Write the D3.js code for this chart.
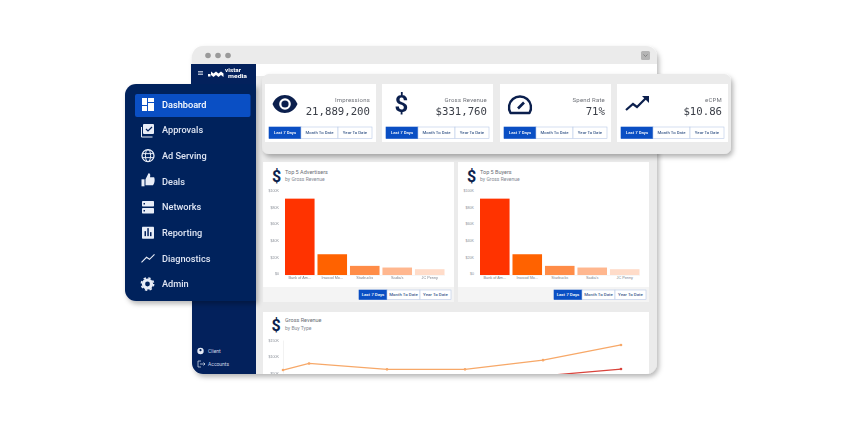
<!DOCTYPE html>
<html><head><meta charset="utf-8">
<script src="https://cdnjs.cloudflare.com/ajax/libs/d3/7.8.5/d3.min.js"></script>
<style>
html,body{margin:0;background:#fff;width:854px;height:427px;overflow:hidden}
svg{display:block;filter:blur(.4px);font-family:Roboto,sans-serif}
</style></head><body><svg id="c" width="854" height="427"></svg>
<script>
const navItems=["Dashboard","Approvals","Ad Serving","Deals","Networks","Reporting","Diagnostics","Admin"];
const footerItems=["Client","Accounts"];
const kpiTitles=["Impressions","Gross Revenue","Spend Rate","eCPM"];
const kpiValues=["21,889,200","$331,760","71%","$10.86"];
const rangeLabels=["Last 7 Days","Month To Date","Year To Date"];
const barCategories=["Bank of Am...","Inwood Mo...","Starbucks","Sadia's","JC Penny"];
const barValues=[92,25,11,9,7];
const barColors=["#ff3300","#ff6200","#ff8c47","#ffb78f","#ffdcc9"];
const barTicks=[0,20,40,60,80,100];
const chartTitles=["Top 5 Advertisers","Top 5 Buyers"];
const lineDates=[0,1,4,7,10,13];
const lineOrange=[59,79,61,61,89,135];
const lineRed=[20,20,22,25,41,62];
const lineTicks=[50,100,150];

const navy="#03215c",blue="#0a4fc4",ink="#0b1f4d";
const svg=d3.select("#c");
const defs=svg.append("defs");
function shadow(id,dy,sd,op){const f=defs.append("filter").attr("id",id).attr("x","-10%").attr("y","-15%").attr("width","120%").attr("height","135%");
 f.append("feDropShadow").attr("dx",2).attr("dy",dy).attr("stdDeviation",sd).attr("flood-color","#000").attr("flood-opacity",op);}
shadow("s1",3,2.5,.28);shadow("s2",3,2.5,.3);
const clip=defs.append("clipPath").attr("id","win");
clip.append("rect").attr("x",192).attr("y",46).attr("width",465).attr("height",328).attr("rx",11);

function rect(p,x,y,w,h,fill,rx){return p.append("rect").attr("x",x).attr("y",y).attr("width",w).attr("height",h).attr("fill",fill).attr("rx",rx||0);}
function text(p,x,y,s,size,fill,anchor,weight,fam){const t=p.append("text").attr("x",x).attr("y",y).text(s).attr("font-size",size).attr("fill",fill).attr("text-anchor",anchor||"start").attr("font-weight",weight||400);if(fam)t.attr("font-family",fam);return t;}
function buttons(p,x,y,ws,h,fs){
 let cx=x;
 rangeLabels.forEach((l,i)=>{
  rect(p,cx,y,ws[i],h,i===0?blue:"#fff").attr("stroke",i===0?blue:"#b9c9e6").attr("stroke-width",.6);
  text(p,cx+ws[i]/2,y+h/2+fs*.35,l,fs,i===0?"#fff":"#42608f","middle",500);
  cx+=ws[i];
 });
}

// browser window
rect(svg,192,46,465,328,"#ebebeb",11).attr("filter","url(#s1)");
const win=svg.append("g").attr("clip-path","url(#win)");
rect(win,256,64,401,12,"#fff");
rect(win,191,64,65,312,navy);
[208,218,228].forEach(x=>win.append("circle").attr("cx",x).attr("cy",55.5).attr("r",2.8).attr("fill","#9a9a9a"));
rect(win,641,51,9,9,"#b5b5b5",1.5);
win.append("path").attr("d","M643.5 54.5l2 2 2-2").attr("fill","none").attr("stroke","#777").attr("stroke-width",.8);

// footer of sidebar
footerItems.forEach((s,i)=>{
 const y=351+i*13;
 if(i===0){
  win.append("circle").attr("cx",200.5).attr("cy",y).attr("r",3.2).attr("fill","#e3e9f5");
  win.append("circle").attr("cx",200.5).attr("cy",y-.8).attr("r",1.1).attr("fill",navy);
 } else {
  win.append("path").attr("d",`M201 ${y-3}h-3v6h3M200 ${y}h5M203.5 ${y-1.5}l1.5 1.5-1.5 1.5`).attr("fill","none").attr("stroke","#e3e9f5").attr("stroke-width",.7);
 }
 text(win,208,y+1.8,s,5,"#cfd8ea");
});

// bar cards
chartTitles.forEach((title,k)=>{
 const x0=263+k*195;
 const g=win.append("g");
 rect(g,x0,162,191,125,"#fff");
 rect(g,x0,287,191,15,"#f4f4f4");
 text(g,x0+22,174,title,5.5,"#6a6e76");
 text(g,x0+22,180.5,"by Gross Revenue",5,"#858a93");
 text(g,x0+13.5,181.5,"$",16,ink,"middle",700);
 const y=d3.scaleLinear().domain([0,100]).range([275,192]);
 const x=d3.scaleBand().domain(barCategories).range([x0+22,x0+181.5]).paddingInner(.09).paddingOuter(0);
 const ya=g.append("g").attr("transform",`translate(${x0+20},-1.5)`)
  .call(d3.axisLeft(y).tickValues(barTicks).tickSize(0).tickFormat(d=>d===0?"$0":`$${d}K`));
 ya.select(".domain").remove();
 ya.selectAll("text").attr("font-size",3.6).attr("fill","#8a8f98").attr("dx",-1);
 g.selectAll("rect.b").data(barValues).join("rect").attr("class","b")
  .attr("x",(d,i)=>x(barCategories[i])).attr("width",x.bandwidth())
  .attr("y",d=>y(d)).attr("height",d=>y(0)-y(d)).attr("fill",(d,i)=>barColors[i]);
 const xa=g.append("g").attr("transform","translate(0,275)").call(d3.axisBottom(x).tickSize(0).tickPadding(0));
 xa.select(".domain").attr("stroke","#eee").attr("stroke-width",.5);
 xa.selectAll("text").attr("font-size",3.8).attr("fill","#80858e").attr("dy",3.8);
 buttons(g,x0+96,290,[28,33,31],9.5,4.4);
});

// line card
const lg=win.append("g");
rect(lg,263,312,386,70,"#fff");
text(lg,285,322,"Gross Revenue",5.5,"#6a6e76");
text(lg,285,330,"by Buy Type",5,"#858a93");
text(lg,276,331,"$",16,ink,"middle",700);
const ly=d3.scaleLinear().domain([50,150]).range([373,340]);
const lx=d3.scaleLinear().domain([0,13]).range([283,621]);
const lya=lg.append("g").attr("transform","translate(283,0)").call(d3.axisLeft(ly).tickValues(lineTicks).tickSize(0).tickFormat(d=>`$${d}K`));
lya.select(".domain").attr("stroke","#e4e4e4").attr("stroke-width",.5);
lya.selectAll("text").attr("font-size",3.6).attr("fill","#8a8f98").attr("dx",-1);
const line=d3.line().x((d,i)=>lx(lineDates[i])).y(d=>ly(d));
lg.append("path").attr("d",line(lineRed)).attr("fill","none").attr("stroke","#d9443c").attr("stroke-width",1.3);
lg.append("path").attr("d",line(lineOrange)).attr("fill","none").attr("stroke","#f7a868").attr("stroke-width",1.3);
lg.selectAll("circle").data(lineOrange).join("circle").attr("cx",(d,i)=>lx(lineDates[i])).attr("cy",d=>ly(d)).attr("r",1.3).attr("fill","#f7a868");
lg.append("circle").attr("cx",lx(13)).attr("cy",ly(lineRed[5])).attr("r",1.3).attr("fill","#d9443c");

// KPI panel
rect(svg,262,74,469,80,"#ebebeb",7).attr("filter","url(#s2)");
const cardX=[265,382,500,617];
const icons=[
 g=>{g.append("path").attr("d","M272.5 104c4.5-12 20-12 25 0c-5 12-20.5 12-25 0z").attr("fill",ink);
     g.append("circle").attr("cx",285).attr("cy",104).attr("r",5.8).attr("fill","#fff");
     g.append("circle").attr("cx",285).attr("cy",104).attr("r",3.6).attr("fill",ink);},
 g=>{text(g,401.5,112,"$",24,ink,"middle",700);},
 g=>{g.append("path").attr("d","M510.5 113a11 11 0 1 1 19 0z").attr("fill","none").attr("stroke",ink).attr("stroke-width",2.4).attr("stroke-linejoin","round");
     g.append("path").attr("d","M518 108.5l6-6").attr("stroke",ink).attr("stroke-width",2.6);},
 g=>{g.append("path").attr("d","M626 110l7-6 4 3 9-9").attr("fill","none").attr("stroke",ink).attr("stroke-width",2.2);
     g.append("path").attr("d","M642 96h7v7z").attr("fill",ink);}
];
cardX.forEach((x,i)=>{
 const g=svg.append("g");
 rect(g,x,84,111,58,"#fff");
 text(g,x+105,101.5,kpiTitles[i],6,"#6e7178","end").attr("letter-spacing",.2);
 text(g,x+105,114.5,kpiValues[i],10.7,"#3b3f48","end",400,"'DejaVu Sans Mono',monospace");
 icons[i](g);
 buttons(g,x+4,127,[32,37,34],11.5,4.3);
});

// nav panel
const nav=svg.append("g");
nav.append("path").attr("d","M256 84H136a11 11 0 0 0-11 11V290a11 11 0 0 0 11 11H256z").attr("fill",navy).attr("filter","url(#s1)");
rect(nav,191,64,65,20,navy);
rect(nav,135,94,115.5,23,blue,2);
navItems.forEach((s,i)=>{
 const y=104.3+i*25.67;
 const g=nav.append("g");
 text(g,162,y+3.3,s,9.2,i===0?"#fff":"#dfe6f4",null,500);
 const c="#e8edf7";
 if(i===0){[[142,98,5,7],[148,98,6,4],[142,106,5,5],[148,103,6,8]].forEach(r=>rect(g,r[0],r[1],r[2],r[3],"#fff"));}
 if(i===1){rect(g,143,124,11,10,c,1);g.append("path").attr("d","M141.5 127v10h11").attr("fill","none").attr("stroke",c);
           g.append("path").attr("d","M146 129l2 2 4-4").attr("fill","none").attr("stroke",navy).attr("stroke-width",1.2);}
 if(i===2){g.append("circle").attr("cx",148).attr("cy",y).attr("r",6).attr("fill","none").attr("stroke",c).attr("stroke-width",1.3);
           g.append("ellipse").attr("cx",148).attr("cy",y).attr("rx",2.6).attr("ry",6).attr("fill","none").attr("stroke",c).attr("stroke-width",1);
           g.append("path").attr("d",`M142 ${y-2}h12M142 ${y+2}h12`).attr("stroke",c).attr("stroke-width",1);}
 if(i===3){rect(g,141.5,y-2,3,7,c);g.append("path").attr("d",`M145.5 ${y-2}l3-6c2 0 2 2 1.5 4h4c1 1 1 6-1 8h-7.5z`).attr("fill",c);}
 if(i===4){rect(g,142,y-6,12,5.5,c,.7);rect(g,142,y+1,12,5.5,c,.7);
           rect(g,143.5,y-4,1.5,1.5,navy);rect(g,143.5,y+3,1.5,1.5,navy);}
 if(i===5){rect(g,142,y-6,12,12,c,.7);[[144.5,-1,1.5,5],[147.3,-4,1.5,8],[150,0,1.5,4]].forEach(b=>rect(g,b[0],y+b[1]-.5,b[2],b[3],navy));}
 if(i===6){g.append("path").attr("d",`M141.5 ${y+4}l5-5 3 2 5-5`).attr("fill","none").attr("stroke",c).attr("stroke-width",1.1);}
 if(i===7){g.append("circle").attr("cx",147.5).attr("cy",y).attr("r",4).attr("fill","none").attr("stroke",c).attr("stroke-width",3.2);
           g.append("circle").attr("cx",147.5).attr("cy",y).attr("r",6.1).attr("fill","none").attr("stroke",c).attr("stroke-width",1.6).attr("stroke-dasharray","2.4 2.4");}
});

// logo, above the sidebar header
[0,1,2].forEach(i=>rect(svg,198,71+i*1.6,5,.8,"#cfd6e6"));
svg.append("path").attr("d","M208 74h2.5v2.5H208zM211 71.5l2.5 2 2.5-2 2.5 2 2.5-2 2.5 2v3.5l-2.5-2-2.500 2-2.500-2-2.500 2-2.500-2z").attr("fill","#fff");
text(svg,225,72.2,"vistar",5,"#fff",null,700).attr("textLength",16).attr("lengthAdjust","spacingAndGlyphs");
text(svg,228,78,"media",5,"#fff",null,700).attr("textLength",19).attr("lengthAdjust","spacingAndGlyphs");
</script></body></html>
